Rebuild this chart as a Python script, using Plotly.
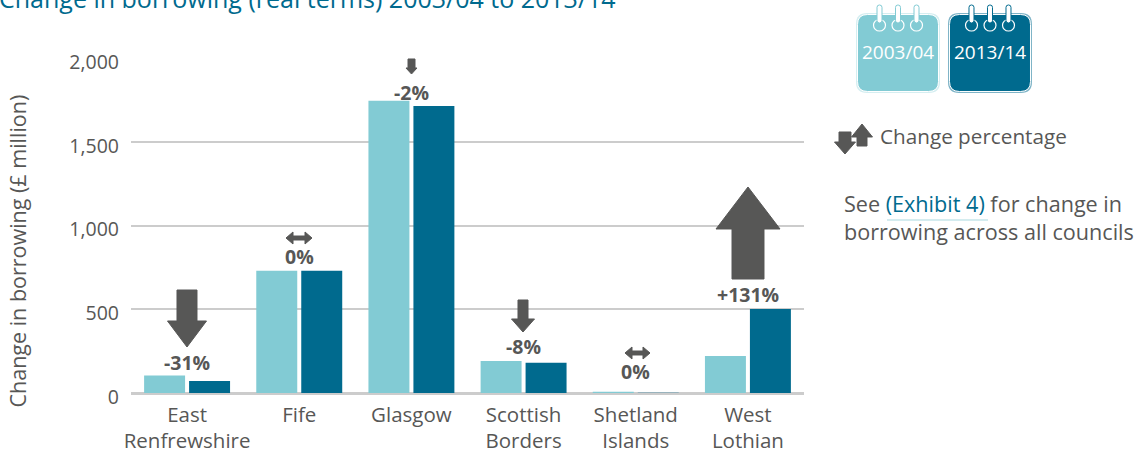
import plotly.graph_objects as go

W, H = 1137, 465
councils = ["East<br>Renfrewshire", "Fife", "Glasgow", "Scottish<br>Borders", "Shetland<br>Islands", "West<br>Lothian"]
borrowing_2003 = [105, 730, 1745, 191, 5, 221]
borrowing_2013 = [72, 730, 1714, 180, 1, 502]
change_labels = ["-31%", "0%", "-2%", "-8%", "0%", "+131%"]
label_px_y = [362, 256, 92, 346, 371, 294]

GREY = "#575756"
LIGHT = "#82CBD4"
DARK = "#006A8E"
FONT = "Open Sans"


def px(x):
    return x / W


def py(y):
    return 1 - y / H


def path(points):
    return "M " + " L ".join(f"{px(a):.5f},{py(b):.5f}" for a, b in points) + " Z"


def shape_arrow(points):
    return dict(type="path", xref="paper", yref="paper", path=path(points),
                fillcolor=GREY, line=dict(color=GREY, width=1), layer="above")


def down(c, sw, hw, top, base, tip):
    return shape_arrow([(c - sw, top), (c + sw, top), (c + sw, base), (c + hw, base), (c, tip),
                        (c - hw, base), (c - sw, base)])


def up(c, sw, hw, bottom, base, tip):
    return shape_arrow([(c - sw, bottom), (c + sw, bottom), (c + sw, base), (c + hw, base), (c, tip),
                        (c - hw, base), (c - sw, base)])


def both(l, r, y, sh, hh, hl):
    return shape_arrow([(l, y), (l + hl, y - hh), (l + hl, y - sh), (r - hl, y - sh), (r - hl, y - hh), (r, y),
                        (r - hl, y + hh), (r - hl, y + sh), (l + hl, y + sh), (l + hl, y + hh)])


def rounded(x0, y0, x1, y1, r):
    P = lambda a, b: f"{px(a):.5f},{py(b):.5f}"
    return (f"M {P(x0 + r, y0)} L {P(x1 - r, y0)} Q {P(x1, y0)} {P(x1, y0 + r)} "
            f"L {P(x1, y1 - r)} Q {P(x1, y1)} {P(x1 - r, y1)} L {P(x0 + r, y1)} "
            f"Q {P(x0, y1)} {P(x0, y1 - r)} L {P(x0, y0 + r)} Q {P(x0, y0)} {P(x0 + r, y0)} Z")


shapes = [
    down(187, 10, 19.5, 290, 321, 347),
    both(286, 312, 238, 2, 6, 7),
    down(411.5, 3.5, 5.5, 59, 68, 74),
    down(523, 5, 11.5, 300, 319, 332),
    both(625, 650, 353, 2, 6, 7),
    up(748, 16, 32, 279, 229, 187),
    down(845, 6, 10.5, 132, 142, 154),
    up(862, 5, 10.5, 146, 137, 124),
    dict(type="line", xref="paper", yref="paper", x0=px(887), x1=px(988), y0=py(220), y1=py(220),
         line=dict(color="#A9DAE0", width=1.2)),
]


def calendar(x0, x1, fill, edge):
    out = [dict(type="path", xref="paper", yref="paper", path=rounded(x0, 13, x1, 93, 11),
                fillcolor=edge, line=dict(width=0)),
           dict(type="path", xref="paper", yref="paper", path=rounded(x0 + 1.5, 14.5, x1 - 1.5, 91.5, 10),
                fillcolor=fill, line=dict(color="white", width=1))]
    c = (x0 + x1) / 2
    for ring in (c - 18.5, c, c + 18.5):
        out.append(dict(type="circle", xref="paper", yref="paper", x0=px(ring - 6), x1=px(ring + 6),
                        y0=py(31), y1=py(19.5), line=dict(color="white", width=1.2), fillcolor="rgba(0,0,0,0)"))
        out.append(dict(type="path", xref="paper", yref="paper", path=rounded(ring - 2.5, 5, ring + 2.5, 23, 2.4),
                        fillcolor="white", line=dict(color=fill, width=1)))
    return out


shapes += calendar(856, 940, LIGHT, "#D5EEF1") + calendar(948, 1032, DARK, "#7FB4C7")

fig = go.Figure()
fig.add_bar(name="2003/04", x=councils, y=borrowing_2003, marker=dict(color=LIGHT, line=dict(width=0)))
fig.add_bar(name="2013/14", x=councils, y=borrowing_2013, marker=dict(color=DARK, line=dict(width=0)))


def note(x, y, text, size=20.5, color=GREY, anchor="left", **kw):
    return dict(x=px(x), y=py(y), xref="paper", yref="paper", text=text,
                showarrow=False, xanchor=anchor, yanchor="middle",
                font=dict(family=FONT, size=size, color=color), **kw)


annotations = [
    dict(x=councils[i], y=py(label_px_y[i]), xref="x", yref="paper", text=f"<b>{change_labels[i]}</b>",
         showarrow=False, xanchor="center", yanchor="middle", font=dict(family=FONT, size=19.5, color=GREY))
    for i in range(6)
]
annotations += [
    note(-3, -2, "Change in borrowing (real terms) 2003/04 to 2013/14", size=25, color=DARK),
    note(898, 52, "2003/04", size=19, color="white", anchor="center"),
    note(990, 52, "2013/14", size=19, color="white", anchor="center"),
    note(878, 136, "Change percentage", size=20.7),
    note(842, 217, f"See <span style='color:{DARK}'>(Exhibit 4)</span> for change in<br>borrowing across all councils",
         size=21.6, align="left"),
    note(17, 251.5, "Change in borrowing (£ million)", size=21.5, anchor="center", textangle=-90),
]

fig.update_layout(
    width=W, height=H, margin=dict(l=0, r=0, t=0, b=0), autosize=False,
    paper_bgcolor="white", plot_bgcolor="white", showlegend=False,
    barmode="group", bargap=0.198, bargroupgap=0.089,
    font=dict(family=FONT, size=19, color=GREY),
    shapes=shapes, annotations=annotations,
    xaxis=dict(domain=[px(131), px(804)], showgrid=False, showline=False,
               ticks="", tickfont=dict(family=FONT, size=20.5, color=GREY), ticklabelstandoff=7, zeroline=False,
               fixedrange=True, automargin=False),
    yaxis=dict(domain=[py(393), py(57.67)], range=[0, 2002], tickvals=[0, 500, 1000, 1500, 2000],
               ticktext=["0", "500", "1,000", "1,500", "2,000"], gridcolor="#CCCCCC", gridwidth=1.5,
               zeroline=True, zerolinecolor="#CCCCCC", zerolinewidth=3, ticks="",
               tickfont=dict(family=FONT, size=19.5, color=GREY),
               ticklabelstandoff=11, ticklabelshift=4, fixedrange=True, automargin=False),
)
fig.write_html("out.html", config=dict(displayModeBar=False),
               post_script="document.body.style.margin='0';document.body.style.overflow='hidden';")
